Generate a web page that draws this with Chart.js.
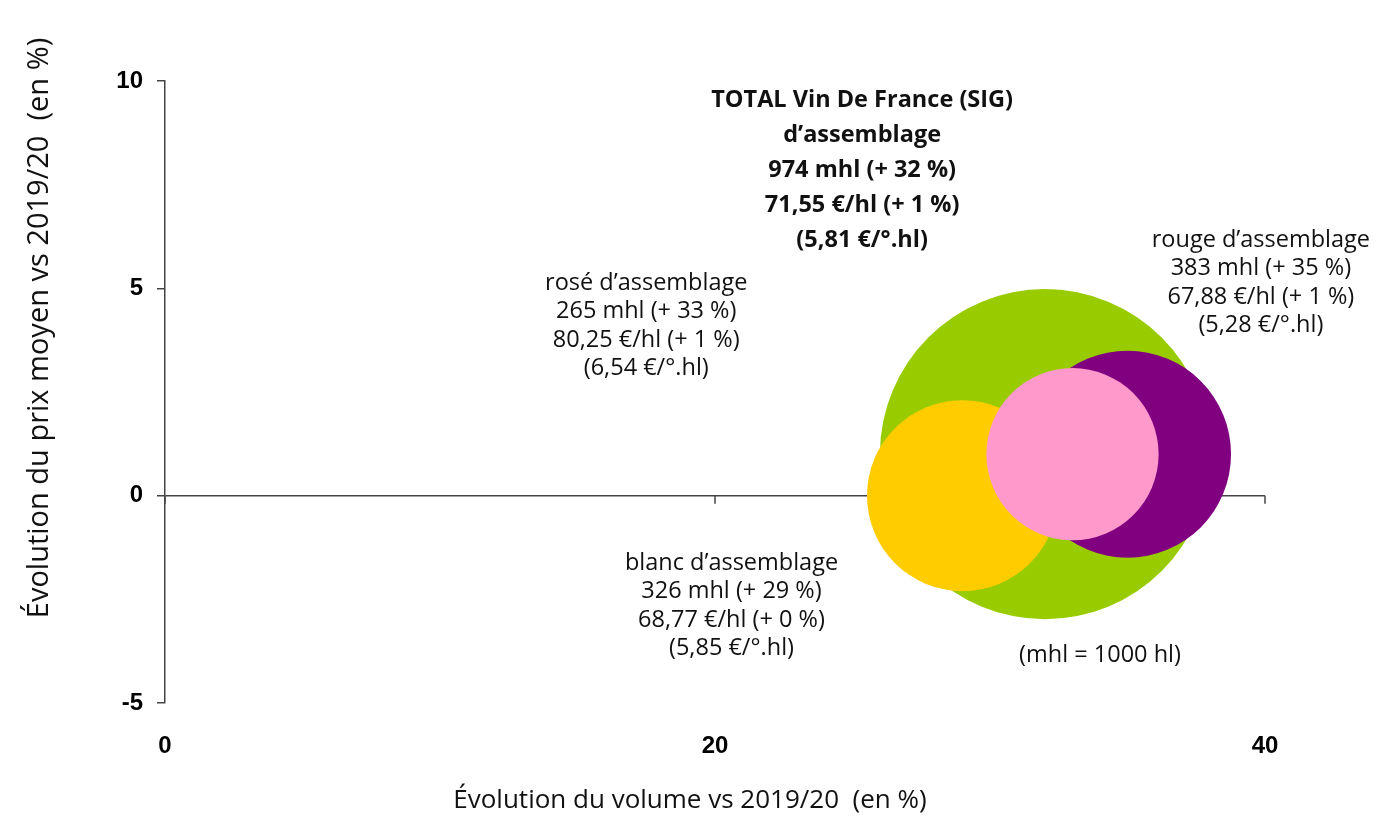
<!DOCTYPE html>
<html lang="fr">
<head>
<meta charset="utf-8">
<title>Vin De France (SIG) d’assemblage</title>
<script src="https://cdn.jsdelivr.net/npm/chart.js@4.4.1/dist/chart.umd.min.js"></script>
<style>
  html, body { margin: 0; padding: 0; background: #fff; }
  #wrap { width: 1389px; height: 819px; }
</style>
</head>
<body>
<div id="wrap"><canvas id="chart"></canvas></div>
<script>
// ── data ──────────────────────────────────────────
const categories   = ['TOTAL Vin De France (SIG)', 'rouge d’assemblage', 'blanc d’assemblage', 'rosé d’assemblage'];
const volumeChange = [32, 35, 29, 33];            // % vs 2019/20 (x)
const priceChange  = [1, 1, 0, 1];                // % vs 2019/20 (y)
const volumes      = [974, 383, 326, 265];        // mhl
const prices       = ['71,55', '67,88', '68,77', '80,25'];  // €/hl
const degreePrices = ['5,81', '5,28', '5,85', '6,54'];      // €/°.hl
const xTicks       = [0, 20, 40];
const yTicks       = [-5, 0, 5, 10];

// ── styles / layout ───────────────────────────────
const colors   = ['#99cc00', '#800080', '#ffcc00', '#ff99cc'];
const RADIUS_K = 5.29;            // px per sqrt(mhl)
const AXIS     = '#444';
const TXT_FONT = '"Open Sans", sans-serif';

// label anchors in data units (centre x, first line y)
const labelPos = [
  { x: 25.35, y: 9.53, bold: true },
  { x: 39.85, y: 6.17 },
  { x: 20.6,  y: -1.63 },
  { x: 17.5,  y: 5.13 },
];

function labelLines(i) {
  const l = [
    `${volumes[i]} mhl (+ ${volumeChange[i]} %)`,
    `${prices[i]} €/hl (+ ${priceChange[i]} %)`,
    `(${degreePrices[i]} €/°.hl)`,
  ];
  if (i === 0) return [categories[0], 'd’assemblage', ...l];
  return [categories[i], ...l];
}

const points = volumes.map((v, i) => ({
  x: volumeChange[i],
  y: priceChange[i],
  r: RADIUS_K * Math.sqrt(v),
}));

// ── plugin: zero-line ticks, annotations, axis titles ──
const decor = {
  id: 'decor',
  beforeDatasetsDraw(chart) {
    const { ctx, scales: { x, y } } = chart;
    const y0 = y.getPixelForValue(0);
    ctx.save();
    ctx.strokeStyle = AXIS;
    ctx.lineWidth = 1.5;
    xTicks.forEach(t => {
      const px = x.getPixelForValue(t);
      ctx.beginPath();
      ctx.moveTo(px, y0);
      ctx.lineTo(px, y0 + 8);
      ctx.stroke();
    });
    ctx.restore();
  },
  afterDraw(chart) {
    const { ctx, scales: { x, y } } = chart;
    ctx.save();
    ctx.fillStyle = '#111';
    ctx.textAlign = 'center';
    ctx.textBaseline = 'middle';

    labelPos.forEach((p, i) => {
      const cx = x.getPixelForValue(p.x);
      const cy = y.getPixelForValue(p.y);
      const step = p.bold ? 35 : 28.5;
      ctx.font = p.bold ? `bold 23.5px ${TXT_FONT}` : `23.5px ${TXT_FONT}`;
      labelLines(i).forEach((line, k) => ctx.fillText(line, cx, cy + k * step));
    });

    // (mhl = 1000 hl)
    ctx.font = `23.5px ${TXT_FONT}`;
    ctx.fillText('(mhl = 1000 hl)', x.getPixelForValue(34), y.getPixelForValue(-3.85));

    // axis titles
    ctx.textBaseline = 'alphabetic';
    ctx.font = `26px ${TXT_FONT}`;
    ctx.fillText('Évolution du volume vs 2019/20  (en %)', 690, 808);
    ctx.font = `29px ${TXT_FONT}`;
    ctx.translate(48, 328);
    ctx.rotate(-Math.PI / 2);
    ctx.fillText('Évolution du prix moyen vs 2019/20  (en %)', 0, 0);
    ctx.restore();
  },
};

new Chart(document.getElementById('chart'), {
  type: 'bubble',
  data: {
    datasets: [{
      data: points,
      backgroundColor: colors,
      borderWidth: 0,
      hoverBorderWidth: 0,
    }],
  },
  options: {
    responsive: true,
    maintainAspectRatio: false,
    animation: false,
    events: [],
    layout: { autoPadding: false, padding: { top: 81, right: 124, bottom: 0, left: 0 } },
    plugins: {
      legend: { display: false },
      tooltip: { enabled: false },
    },
    scales: {
      x: {
        type: 'linear',
        min: 0,
        max: 40,
        afterBuildTicks: s => { s.ticks = xTicks.map(v => ({ value: v })); },
        afterFit: s => { s.height = 116; },
        grid: { display: false, drawTicks: false },
        border: { display: false },
        ticks: {
          padding: 29,
          color: '#000',
          font: { family: '"Liberation Sans", Arial, sans-serif', size: 24, weight: 'bold' },
        },
      },
      y: {
        type: 'linear',
        min: -5,
        max: 10,
        afterBuildTicks: s => { s.ticks = yTicks.map(v => ({ value: v })); },
        afterFit: s => { s.width = 165; },
        grid: {
          color: c => (c.tick && c.tick.value === 0 ? AXIS : 'rgba(0,0,0,0)'),
          tickColor: AXIS,
          lineWidth: 1.5,
          tickLength: 8,
          drawTicks: true,
        },
        border: { display: true, color: AXIS, width: 1.5 },
        ticks: {
          padding: 14,
          color: '#000',
          font: { family: '"Liberation Sans", Arial, sans-serif', size: 24, weight: 'bold' },
        },
      },
    },
  },
  plugins: [decor],
});
</script>
</body>
</html>
